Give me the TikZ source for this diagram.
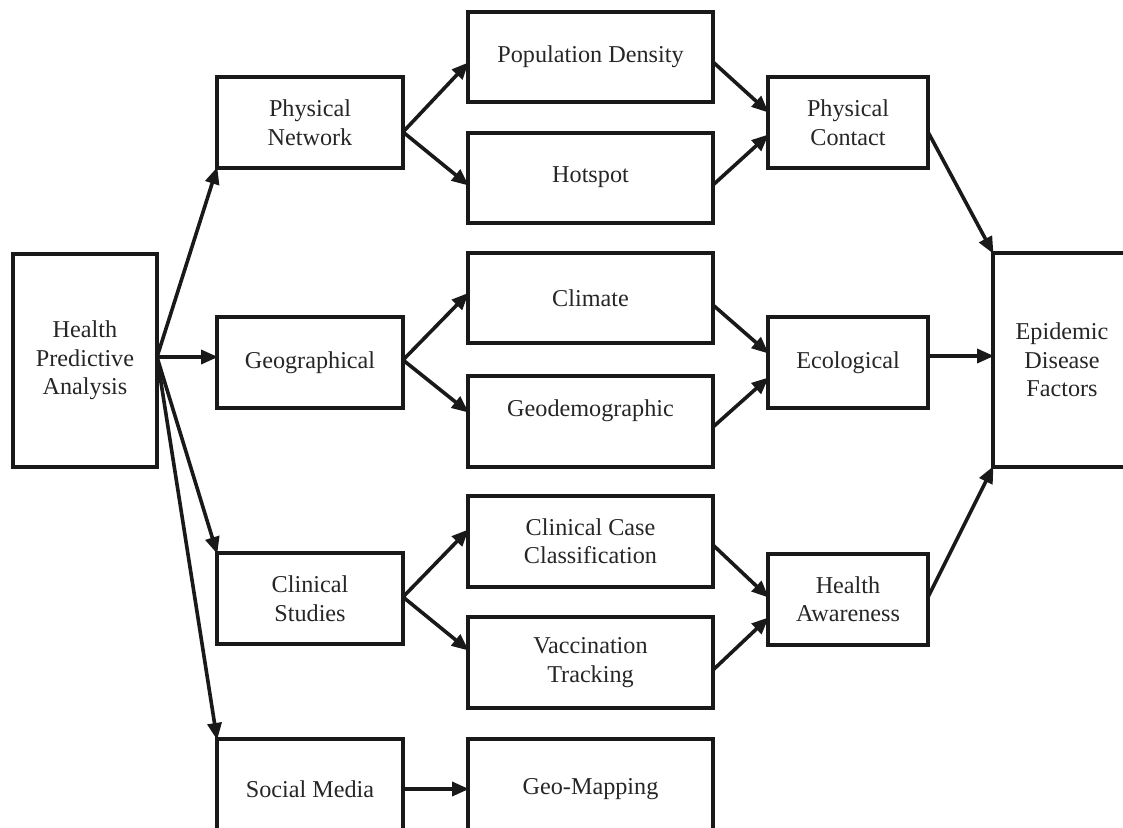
\documentclass[tikz,border=0pt]{standalone}
\usepackage{fontspec}
\setmainfont{Liberation Serif}
\usetikzlibrary{arrows.meta}
\begin{document}
\begin{tikzpicture}[x=1pt,y=-1pt,
  box/.style={draw=black!90, line width=4pt, outer sep=0pt, inner sep=0pt, align=center,
    font=\fontsize{24.2}{28.5}\selectfont, text=black!85},
  conn/.style={draw=black!90, line width=3.6pt, -{Triangle[length=17pt,width=14pt]}, shorten >=-1pt}]
\useasboundingbox (0,0) rectangle (1123,827);
\clip (0,0) rectangle (1123,827);
% column 1
\node[box, minimum width=144pt, minimum height=213pt] (hpa) at (85,360.5) {Health\\Predictive\\Analysis};
% column 2
\node[box, minimum width=186pt, minimum height=91pt] (pn) at (310,122.5) {Physical\\Network};
\node[box, minimum width=186pt, minimum height=91pt] (geo) at (310,362.5) {Geographical};
\node[box, minimum width=186pt, minimum height=91pt] (cs) at (310,598.5) {Clinical\\Studies};
\node[box, minimum width=186pt, minimum height=100pt] (sm) at (310,789) {Social Media};
% column 3
\node[box, minimum width=245pt, minimum height=90pt] (pd) at (590.5,57) {Population Density};
\node[box, minimum width=245pt, minimum height=90pt] (hot) at (590.5,177.5) {Hotspot};
\node[box, minimum width=245pt, minimum height=90pt] (clim) at (590.5,298) {Climate};
\node[box, minimum width=245pt, minimum height=91pt, text depth=26pt] (geod) at (590.5,421) {Geodemographic};
\node[box, minimum width=245pt, minimum height=91pt] (ccc) at (590.5,541) {Clinical Case\\Classification};
\node[box, minimum width=245pt, minimum height=91pt] (vac) at (590.5,662.5) {Vaccination\\Tracking};
\node[box, minimum width=245pt, minimum height=100pt] (gm) at (590.5,789) {Geo-Mapping};
% column 4
\node[box, minimum width=160pt, minimum height=91pt] (pc) at (848,122.5) {Physical\\Contact};
\node[box, minimum width=160pt, minimum height=91pt] (eco) at (848,362.5) {Ecological};
\node[box, minimum width=160pt, minimum height=91pt] (ha) at (848,599) {Health\\Awareness};
% column 5
\node[box, minimum width=138pt, minimum height=214pt] (epi) at (1062,360) {Epidemic\\Disease\\Factors};
% connectors from hub
\coordinate (hub) at ([yshift=3.5pt]hpa.east);
\draw[conn] (hub) -- (pn.south west);
\draw[conn] (hub) -- (hub -| geo.west);
\draw[conn] (hub) -- (cs.north west);
\draw[conn] (hub) -- (sm.north west);
% physical branch
\draw[conn] ([yshift=-9.5pt]pn.east) -- ([yshift=-6pt]pd.west);
\draw[conn] ([yshift=-9.5pt]pn.east) -- ([yshift=-7.5pt]hot.west);
\draw[conn] ([yshift=-5pt]pd.east) -- ([yshift=10.5pt]pc.west);
\draw[conn] ([yshift=-7.5pt]hot.east) -- ([yshift=-12.5pt]pc.west);
\draw[conn] ([yshift=-9.5pt]pc.east) -- (epi.north west);
% geographical branch
\draw[conn] ([yshift=2.5pt]geo.east) -- ([yshift=4.5pt]clim.west);
\draw[conn] ([yshift=2.5pt]geo.east) -- ([yshift=9pt]geod.west);
\draw[conn] ([yshift=-7pt]clim.east) -- ([yshift=9.5pt]eco.west);
\draw[conn] ([yshift=-6pt]geod.east) -- ([yshift=-15.5pt]eco.west);
\draw[conn] ([yshift=6.5pt]eco.east) -- ([yshift=4pt]epi.west);
% clinical branch
\draw[conn] ([yshift=1.5pt]cs.east) -- ([yshift=11pt]ccc.west);
\draw[conn] ([yshift=1.5pt]cs.east) -- ([yshift=12.5pt]vac.west);
\draw[conn] ([yshift=-4pt]ccc.east) -- ([yshift=2pt]ha.west);
\draw[conn] ([yshift=-7.5pt]vac.east) -- ([yshift=-19pt]ha.west);
\draw[conn] ([yshift=2pt]ha.east) -- (epi.south west);
% social media branch
\draw[conn] (sm.east) -- (gm.west);
\end{tikzpicture}
\end{document}
